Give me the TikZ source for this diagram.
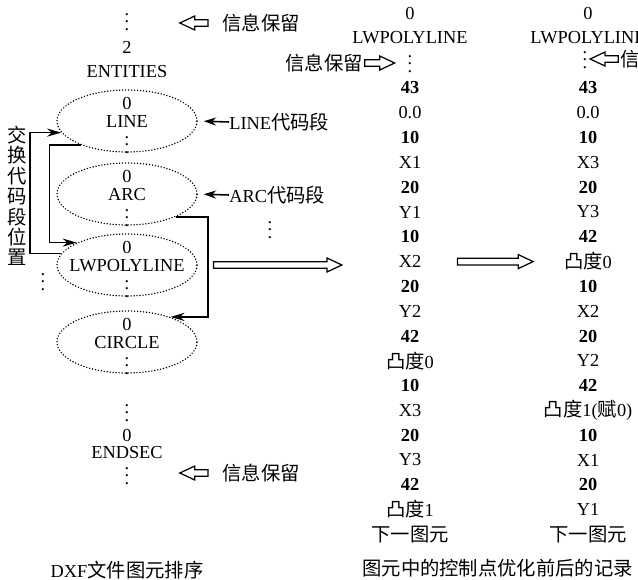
\documentclass[tikz,border=0pt]{standalone}
\usepackage{fontspec}
\setmainfont{Liberation Serif}[Scale=0.95]
\newfontfamily\cjk{Noto Sans CJK SC}
\usetikzlibrary{arrows.meta,shapes.geometric,calc}
\newcommand\zh[1]{{\cjk #1}}
\newcommand\vdts{\vbox{\baselineskip=4.3pt\lineskiplimit=-10pt\hbox{.}\hbox{.}\hbox{.}}}
\tikzset{
  entity/.style={ellipse,draw,line width=0.9pt,line cap=round,
                 dash pattern=on 0pt off 1.7pt,minimum width=2.8cm,
                 minimum height=1.24cm,inner sep=0pt},
  entitytext/.style={align=center,inner sep=0pt},
  cell/.style={inner sep=0pt},
  codearr/.style={-{Stealth[length=7pt,width=4.6pt]},line width=0.9pt,
                  shorten >=3.4pt},
  swaparr/.style={-{Stealth[length=8pt,width=4.6pt]},line width=0.9pt},
  hollowarr/.style 2 args={line width=0.7pt,
    to path={let \p1=(\tikztostart),\p2=(\tikztotarget),
                 \n1={(\x2>\x1)*2-1},\n2={\x1+\n1*#1},
                 \n3={\x1+\n1*(#1+#2)},\n4={\n3-\n1*8.5} in
      ({\n2},{\y1+1.9pt}) -- ({\n4},{\y1+1.9pt}) -- ({\n4},{\y1+4pt})
      -- ({\n3},\y1) -- ({\n4},{\y1-4pt}) -- ({\n4},{\y1-1.9pt})
      -- ({\n2},{\y1-1.9pt}) -- cycle}}
}
\begin{document}
\begin{tikzpicture}[x=0.02cm,y=-0.02cm,font=\fontsize{11}{13}\selectfont]
  \useasboundingbox (0,0) rectangle (638,580);

  % entity sequence of the DXF file
  \node[cell] (dotsA) at (127,22) {\vdts};
  \node[cell] (two) at (127,47) {2};
  \node[cell] (entities) at (127,72) {ENTITIES};
  \node[entity] (eline) at (127,121) {};
  \node[entitytext] at ([yshift=-2.5pt]eline.center) {0\\[-2.5pt]LINE\\[1.5pt]\vdts};
  \node[entity] (earc) at (127,194) {};
  \node[entitytext] at ([yshift=-2.5pt]earc.center) {0\\[-2.5pt]ARC\\[1.5pt]\vdts};
  \node[entity] (elwp) at (127,265) {};
  \node[entitytext] at ([yshift=-2.5pt]elwp.center) {0\\[-2.5pt]LWPOLYLINE\\[1.5pt]\vdts};
  \node[entity] (ecirc) at (127,342) {};
  \node[entitytext] at ([yshift=-2.5pt]ecirc.center) {0\\[-2.5pt]CIRCLE\\[1.5pt]\vdts};
  \node[cell] (dotsD) at (127,413) {\vdts};
  \node[cell] (zeroD) at (127,435) {0};
  \node[cell] (endsec) at (127,453) {ENDSEC};
  \node[cell] (dotsE) at (127,476) {\vdts};
  \node[cell] (capL) at (127,570) {DXF\zh{文件图元排序}};

  % notes beside the sequence
  \node[cell,anchor=west] (infoA) at (222,23) {\zh{信息保留}};
  \node[cell,anchor=west] (infoE) at (222,473) {\zh{信息保留}};
  \node[cell,anchor=west] (linecode) at (229,122) {LINE\zh{代码段}};
  \node[cell,anchor=west] (arccode) at (229,195) {ARC\zh{代码段}};
  \node[cell] (dotsM) at (270,230) {\vdts};
  \node[cell] (dotsL) at (43,282) {\vdts};
  \node[cell,align=center,font=\cjk\fontsize{11}{11.6}\selectfont] (swaptxt)
    at (17,196) {交\\换\\代\\码\\段\\位\\置};

  % records before and after
  \node[cell] (c1zero) at (410,13) {0};
  \node[cell] (c1name) at (410,38) {LWPOLYLINE};
  \node[cell] (c1dots) at (410,64) {\vdts};
  \node[cell,anchor=east] (infoB) at (363,63) {\zh{信息保留}};
  \foreach \t [count=\i from 0] in {\textbf{43},0.0,\textbf{10},X1,\textbf{20},Y1,
      \textbf{10},X2,\textbf{20},Y2,\textbf{42},\zh{凸度}0,\textbf{10},X3,
      \textbf{20},Y3,\textbf{42},\zh{凸度}1,\zh{下一图元}}
    \node[cell] (c1r\i) at (410,{88+24.8*\i}) {\t};

  \node[cell] (c2zero) at (588,13) {0};
  \node[cell] (c2name) at (588,38) {LWPOLYLINE};
  \node[cell] (c2dots) at (585,60) {\vdts};
  \node[cell,anchor=west] (infoC) at (620,59) {\zh{信息保留}};
  \foreach \t [count=\i from 0] in {\textbf{43},0.0,\textbf{10},X3,\textbf{20},Y3,
      \textbf{42},\zh{凸度}0,\textbf{10},X2,\textbf{20},Y2,\textbf{42},
      \zh{凸度}1(\zh{赋}0),\textbf{10},X1,\textbf{20},Y1,\zh{下一图元}}
    \node[cell] (c2r\i) at (588,{88+24.8*\i}) {\t};
  \node[cell,anchor=west] (capR) at (362,568) {\zh{图元中的控制点优化前后的记录}};

  % connectors
  \draw[codearr] (linecode.west) -- (eline.east);
  \draw[codearr] (arccode.west) -- (earc.east);
  \draw[swaparr] (elwp.170) -- ++(-31,0) |- (eline.190);
  \draw[swaparr] (eline.208) -- ++(-32,0) |- (elwp.156);
  \draw[swaparr] (earc.-25) -- ++(32,0) |- (ecirc.30);
  \draw[hollowarr={8}{16}] (infoA.west) to (dotsA);
  \draw[hollowarr={8}{16}] (infoE.west) to (dotsE);
  \draw[hollowarr={1}{17}] (infoB.east) to (c1dots);
  \draw[hollowarr={1}{16}] (infoC.west) to (c2dots);
  \draw[hollowarr={9}{73}] (elwp.east) to (c1r7);
  \draw[hollowarr={20.5}{43}] (c1r7.east) to (c2r7);
\end{tikzpicture}
\end{document}
